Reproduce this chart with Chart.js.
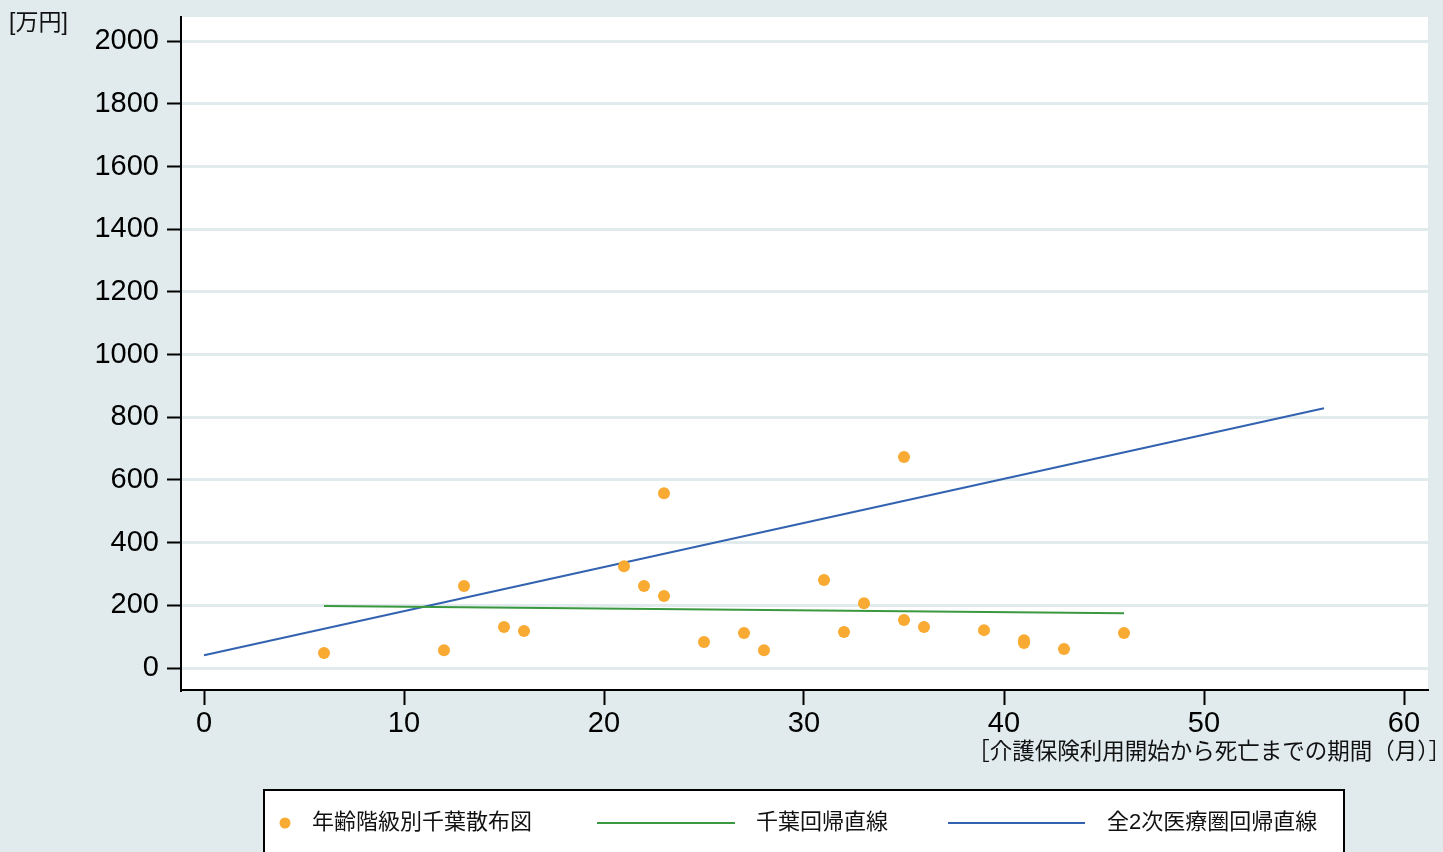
<!DOCTYPE html>
<html>
<head>
<meta charset="utf-8">
<script src="https://cdn.jsdelivr.net/npm/chart.js@4/dist/chart.umd.min.js"></script>
<style>
  html, body { margin: 0; padding: 0; background: #e1ebed; }
  #wrap { width: 1443px; height: 852px; position: relative; }
</style>
</head>
<body>
<div id="wrap"><canvas id="c" width="1443" height="852"></canvas></div>
<script>
// データ
const months = [6, 12, 13, 15, 16, 21, 22, 23, 23, 25, 27, 28, 31, 32, 33, 35, 35, 36, 39, 41, 41, 43, 46];
const costs = [48, 57, 262, 131, 118, 325, 262, 558, 230, 83, 112, 57, 281, 115, 207, 673, 153, 131, 121, 89, 80, 61, 112];
const chibaLineX = [6, 46];
const chibaLineY = [198, 175];
const allLineX = [0, 56];
const allLineY = [41, 829];
const xTicks = [0, 10, 20, 30, 40, 50, 60];
const yTicks = [0, 200, 400, 600, 800, 1000, 1200, 1400, 1600, 1800, 2000];
const legendLabels = ['年齢階級別千葉散布図', '千葉回帰直線', '全2次医療圏回帰直線'];
const xTitle = '［介護保険利用開始から死亡までの期間（月）］';
const yTitle = '[万円]';

const FONT = '"Liberation Sans", Arial, "Noto Sans CJK JP", sans-serif';
const ORANGE = '#f9aa32';
const GREEN = '#3a983e';
const BLUE = '#3262b0';

const toPoints = (xs, ys) => xs.map((x, i) => ({ x: x, y: ys[i] }));

// 背景・凡例・軸タイトル
const decor = {
    id: 'decor',
    beforeDraw(chart) {
        const { ctx, chartArea: a } = chart;
        ctx.save();
        ctx.fillStyle = '#ffffff';
        ctx.fillRect(a.left, a.top, a.right - a.left, a.bottom - a.top);
        ctx.restore();
    },
    afterDraw(chart) {
        const ctx = chart.ctx;
        ctx.save();
        ctx.fillStyle = '#111';
        ctx.font = '23px ' + FONT;
        ctx.textAlign = 'left';
        ctx.textBaseline = 'middle';
        ctx.fillText(yTitle, 9, 24);

        ctx.font = '22.5px ' + FONT;
        ctx.textAlign = 'right';
        ctx.fillText(xTitle, 1451, 753);

        // 凡例
        ctx.fillStyle = '#ffffff';
        ctx.fillRect(264, 790, 1080, 80);
        ctx.strokeStyle = '#000';
        ctx.lineWidth = 2;
        ctx.strokeRect(264, 790, 1080, 80);

        const ly = 823;
        ctx.fillStyle = ORANGE;
        ctx.beginPath();
        ctx.arc(285, ly, 5.5, 0, Math.PI * 2);
        ctx.fill();

        ctx.lineWidth = 2;
        ctx.strokeStyle = GREEN;
        ctx.beginPath(); ctx.moveTo(597, ly); ctx.lineTo(735, ly); ctx.stroke();
        ctx.strokeStyle = BLUE;
        ctx.beginPath(); ctx.moveTo(948, ly); ctx.lineTo(1085, ly); ctx.stroke();

        ctx.fillStyle = '#111';
        ctx.font = '22px ' + FONT;
        ctx.textAlign = 'left';
        ctx.fillText(legendLabels[0], 312, ly);
        ctx.fillText(legendLabels[1], 756, ly);
        ctx.fillText(legendLabels[2], 1107, ly);
        ctx.restore();
    }
};

new Chart(document.getElementById('c'), {
    type: 'scatter',
    data: {
        datasets: [
            {
                label: legendLabels[0],
                data: toPoints(months, costs),
                backgroundColor: ORANGE,
                borderColor: ORANGE,
                pointRadius: 6,
                borderWidth: 0
            },
            {
                label: legendLabels[1],
                data: toPoints(chibaLineX, chibaLineY),
                showLine: true,
                borderColor: GREEN,
                borderWidth: 2,
                pointRadius: 0
            },
            {
                label: legendLabels[2],
                data: toPoints(allLineX, allLineY),
                showLine: true,
                borderColor: BLUE,
                borderWidth: 2,
                pointRadius: 0
            }
        ]
    },
    options: {
        responsive: false,
        animation: false,
        layout: { padding: { left: 0, right: 15, top: 17, bottom: 0 } },
        plugins: {
            legend: { display: false },
            tooltip: { enabled: false }
        },
        scales: {
            x: {
                type: 'linear',
                min: -1.15,
                max: 61.2,
                afterBuildTicks: s => { s.ticks = xTicks.map(v => ({ value: v })); },
                afterFit: s => { s.height = 162; s.paddingLeft = 0; s.paddingRight = 0; },
                border: { display: true, color: '#000', width: 2 },
                grid: {
                    drawOnChartArea: false,
                    drawTicks: true,
                    tickLength: 15,
                    tickColor: '#000',
                    tickWidth: 2
                },
                ticks: {
                    color: '#000',
                    font: { family: FONT, size: 29 },
                    padding: 2,
                    maxRotation: 0,
                    callback: v => String(v)
                }
            },
            y: {
                type: 'linear',
                min: -70,
                max: 2077,
                afterBuildTicks: s => { s.ticks = yTicks.map(v => ({ value: v })); },
                afterFit: s => { s.width = 181; s.paddingTop = 0; s.paddingBottom = 0; },
                border: { display: true, color: '#000', width: 2 },
                grid: {
                    color: '#e1ebed',
                    lineWidth: 3,
                    drawTicks: true,
                    tickLength: 14,
                    tickColor: '#000',
                    tickWidth: 2
                },
                ticks: {
                    color: '#000',
                    font: { family: FONT, size: 29 },
                    padding: 8,
                    callback: v => String(v)
                }
            }
        }
    },
    plugins: [decor]
});
</script>
</body>
</html>
